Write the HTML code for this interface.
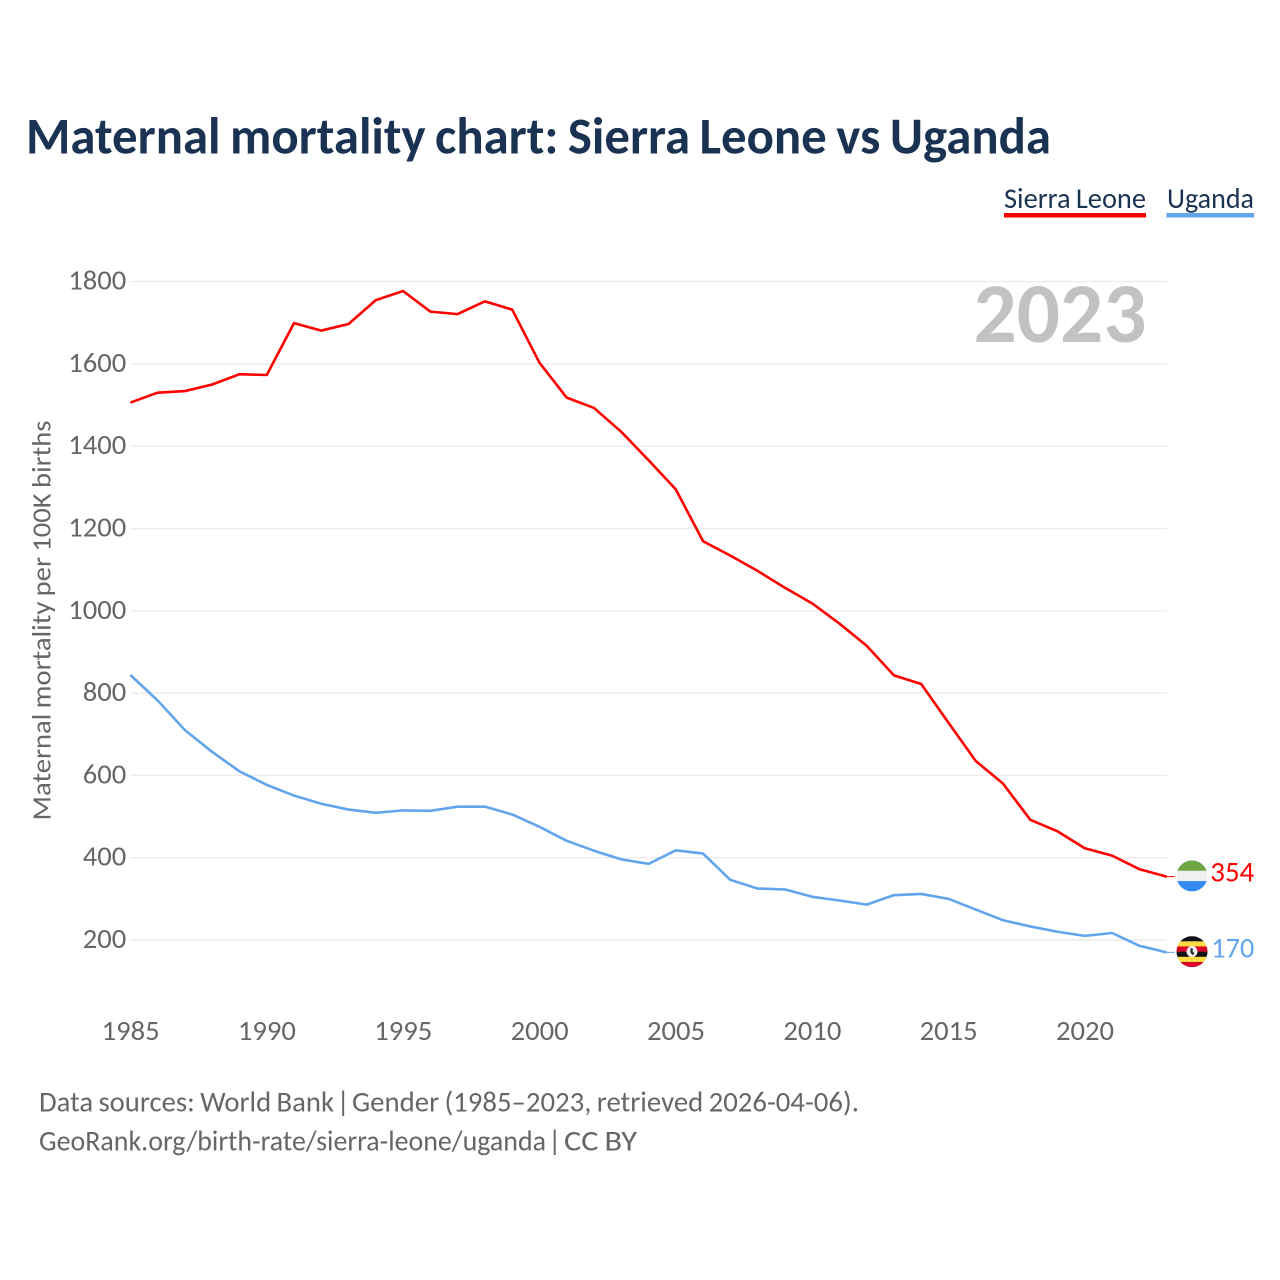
<!DOCTYPE html>
<html lang="en">
<head>
<meta charset="utf-8">
<title>Maternal mortality chart: Sierra Leone vs Uganda</title>
<style>
html,body{margin:0;padding:0;background:#fff;}
svg{display:block;}
text{font-family:"Carlito","Lato","Liberation Sans",sans-serif;word-spacing:-0.04em;}
</style>
</head>
<body>
<svg id="chart" width="1280" height="1280" viewBox="0 0 1280 1280" xmlns="http://www.w3.org/2000/svg">
  <rect width="1280" height="1280" fill="#fff"/>
  <text x="26" y="153.5" font-size="51.5" font-weight="700" fill="#1a3352" textLength="1025" lengthAdjust="spacingAndGlyphs">Maternal mortality chart: Sierra Leone vs Uganda</text>

  <g>
    <text x="1004" y="208" font-size="29" fill="#1a3352" textLength="142" lengthAdjust="spacingAndGlyphs">Sierra Leone</text>
    <rect x="1004" y="213" width="142" height="4.5" fill="#ff0000"/>
  </g>
  <g>
    <text x="1167" y="208" font-size="29" fill="#1a3352" textLength="87" lengthAdjust="spacingAndGlyphs">Uganda</text>
    <rect x="1166.5" y="213" width="87.5" height="4.5" fill="#62a5ec"/>
  </g>

  <g id="grid"></g>
  <text x="973.5" y="342" font-size="85" font-weight="700" fill="#c2c2c2" textLength="173" lengthAdjust="spacingAndGlyphs">2023</text>
  <g id="yticks"></g>
  <g id="xticks"></g>
  <text transform="translate(50.5 620.5) rotate(-90)" text-anchor="middle" font-size="27" fill="#666" textLength="400" lengthAdjust="spacingAndGlyphs">Maternal mortality per 100K births</text>
  <g id="series"></g>
  <g id="endmarks"></g>

  <g>
    <text x="39" y="1111.5" font-size="29" fill="#666" textLength="295" lengthAdjust="spacingAndGlyphs">Data sources: World Bank</text>
    <text x="336.5" y="1111.5" font-size="29" fill="#666">|</text>
    <text x="352" y="1111.5" font-size="29" fill="#666" textLength="507" lengthAdjust="spacingAndGlyphs">Gender (1985–2023, retrieved 2026-04-06).</text>
  </g>
  <g>
    <text x="39" y="1150.5" font-size="29" fill="#666" textLength="507" lengthAdjust="spacingAndGlyphs">GeoRank.org/birth-rate/sierra-leone/uganda</text>
    <text x="548" y="1150.5" font-size="29" fill="#666">|</text>
    <text x="564" y="1150.5" font-size="29" fill="#666" textLength="73" lengthAdjust="spacingAndGlyphs">CC BY</text>
  </g>
</svg>
<script>
const years = [1985,1986,1987,1988,1989,1990,1991,1992,1993,1994,1995,1996,1997,1998,1999,2000,2001,2002,2003,2004,2005,2006,2007,2008,2009,2010,2011,2012,2013,2014,2015,2016,2017,2018,2019,2020,2021,2022,2023];
const sierraLeone = [1506,1530,1534,1550,1575,1573,1699,1681,1697,1755,1777,1727,1721,1752,1732,1603,1518,1493,1435,1366,1295,1169,1134,1097,1056,1018,969,915,843,822,728,635,580,492,464,423,405,372,354];
const uganda = [844,782,710,657,610,577,551,531,517,509,515,514,524,524,505,475,441,417,396,385,418,410,346,325,323,305,296,286,309,312,300,274,248,233,220,210,217,186,170];
const yTickValues = [200,400,600,800,1000,1200,1400,1600,1800];
const xTickValues = [1985,1990,1995,2000,2005,2010,2015,2020];

const NS = 'http://www.w3.org/2000/svg';
function xScale(year){ return 130.4 + (year - 1985) * 27.27; }
function yScale(v){ return 940 - (v - 200) * 0.4115; }
function make(tag, attrs, parent){
  const el = document.createElementNS(NS, tag);
  for (const k in attrs) el.setAttribute(k, attrs[k]);
  parent.appendChild(el);
  return el;
}
const gridG = document.getElementById('grid');
const yG = document.getElementById('yticks');
const xG = document.getElementById('xticks');
const seriesG = document.getElementById('series');
const endG = document.getElementById('endmarks');

yTickValues.forEach(function(v){
  const line = make('line', {x1:130.4, x2:1166.7, y1:yScale(v), y2:yScale(v), stroke:'#ececec', 'stroke-width':1.4}, gridG);
  
  
  const t = make('text', {x:126.3, y:yScale(v)+8, 'text-anchor':'end', 'font-size':28, fill:'#666', textLength:String(v).length*14.5, lengthAdjust:'spacingAndGlyphs'}, yG);
  t.textContent = String(v);
  
  
});
xTickValues.forEach(function(y){
  const t = make('text', {x:xScale(y)+0.2, y:1040, 'text-anchor':'middle', 'font-size':28, fill:'#666', textLength:58, lengthAdjust:'spacingAndGlyphs'}, xG);
  t.textContent = String(y);
  
  
});
function drawLine(values, color, name){
  const d = values.map(function(v,i){ return (i ? 'L' : 'M') + xScale(years[i]).toFixed(2) + ' ' + yScale(v).toFixed(2); }).join('');
  const p = make('path', {d:d, fill:'none', stroke:color, 'stroke-width':2.6, 'stroke-linejoin':'round'}, seriesG);
  
  
  const last = values[values.length-1];
  const lx = xScale(years[years.length-1]);
  const ly = yScale(last);
  const stub = make('line', {x1:lx, x2:lx+8, y1:ly, y2:ly, stroke:color, 'stroke-width':1}, seriesG);
  
  
}
drawLine(sierraLeone, '#ff0000', 'sierra-leone');
drawLine(uganda, '#62a5ec', 'uganda');

function endLabel(value, color, name, width){
  const t = make('text', {x:1254.3, y:yScale(value)+5, 'text-anchor':'end', 'font-size':29, fill:color, textLength:width, lengthAdjust:'spacingAndGlyphs'}, endG);
  t.textContent = String(value);
  
  
}
endLabel(sierraLeone[sierraLeone.length-1], '#ff0000', 'sierra-leone', 44);
endLabel(uganda[uganda.length-1], '#62a5ec', 'uganda', 43);

function flag(value, name, stripes, emblem){
  const cy = yScale(value) - 0.7;
  const cx = 1192, r = 15.5;
  const g = make('g', {}, endG);
  
  
  const clip = make('clipPath', {id:'clip-' + name}, g);
  make('circle', {cx:cx, cy:cy, r:r}, clip);
  const inner = make('g', {'clip-path':'url(#clip-' + name + ')'}, g);
  const h = 2 * r / stripes.length;
  stripes.forEach(function(c,i){
    make('rect', {x:cx-r, y:cy-r+i*h, width:2*r, height:h+0.3, fill:c}, inner);
  });
  if (emblem){
    make('circle', {cx:cx, cy:cy, r:5.5, fill:'#f0f0f0'}, inner);
    make('path', {d:'M'+(cx-1.5)+' '+(cy-3.5)+'l2.5 0.5l-0.5 2.5l2 2.5l-2 1.5l-2 -2.5z', fill:'#222'}, inner);
  }
}
flag(sierraLeone[sierraLeone.length-1], 'sierra-leone', ['#6da544','#f0f0f0','#338af3'], false);
flag(uganda[uganda.length-1], 'uganda', ['#111111','#ffda44','#d80027','#111111','#ffda44','#d80027'], true);
</script>
</body>
</html>
